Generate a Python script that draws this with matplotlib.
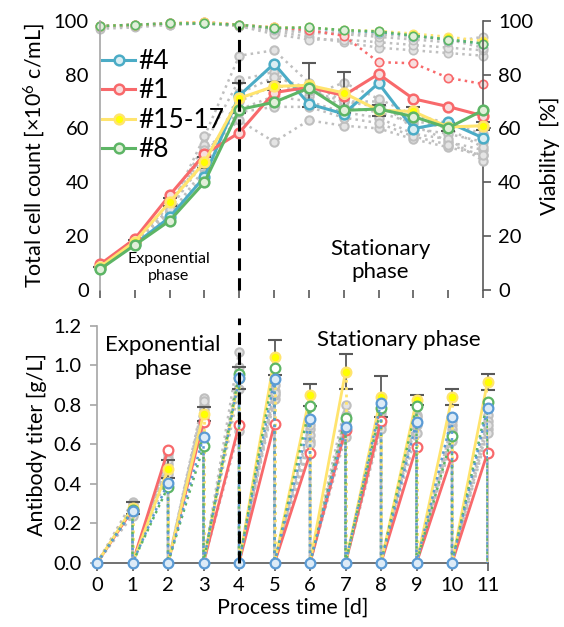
import numpy as np
import matplotlib
matplotlib.use("Agg")
import matplotlib.pyplot as plt

plt.rcParams['font.family'] = ['Lato', 'DejaVu Sans']
plt.rcParams['mathtext.default'] = 'regular'

# ---------------- data ----------------
days = list(range(12))

# total cell count [x10^6 c/mL]
cc_4 = [8, 17, 27, 42, 72.2, 84, 69.1, 65.4, 76.8, 59.9, 62.3, 56.5]
cc_1 = [9.5, 19, 35.2, 50.4, 58.4, 73.3, 75.3, 72.2, 80.2, 71, 68.1, 64.7]
cc_15 = [8.5, 18, 32.6, 47.4, 71.2, 75.6, 76, 73.2, 66.7, 66.3, 60.5, 61]
cc_15_err = [0, 0.5, 1.5, 2, 5.5, 1.5, 8.2, 7.6, 2, 1.5, 1.5, 1.5]
cc_8 = [7.7, 16.7, 25.7, 40, 67, 69.7, 75, 66.7, 67.2, 64.4, 60.2, 66.7]
cc_gray = [
    [8, 18, 30, 57, 87, 89, 77, 70, 70, 60, 58, 55],
    [9, 19, 31, 54, 78, 81, 72, 77, 71, 65, 62, 58],
    [8, 18, 29, 52, 63, 55, 63, 61, 60, 56, 53, 50],
    [8, 17, 28, 45, 73, 79, 75, 68, 66, 62, 55, 52],
    [9, 19, 32, 50, 67, 72, 70, 66, 64, 58, 56, 48],
    [8, 18, 30, 48, 70, 76, 74, 70, 68, 63, 60, 53],
    [8, 17, 27, 43, 66, 68, 68, 64, 62, 57, 54, 50],
]

# viability [%]
via_4 = [98, 98.5, 99, 99, 98.5, 97.3, 97.3, 96.3, 95.8, 94.5, 93, 91.5]
via_1 = [98, 98.5, 99, 99.5, 98.5, 97.5, 96.5, 94.4, 84.6, 84.2, 78.8, 76.5]
via_15 = [98, 98.5, 99, 99.5, 98.5, 97.5, 97.5, 96.5, 96.2, 95.2, 94, 92.5]
via_8 = [98, 98.5, 99, 99, 98.5, 97.3, 97.5, 96.5, 96, 94.5, 93, 91.5]
via_gray = [
    [97, 97.5, 98.5, 99, 98, 96, 94, 92, 90, 89, 88, 87],
    [98, 98, 99, 99, 98, 95, 93, 93, 92, 91, 90, 89],
    [97.5, 98, 98.5, 99, 98.5, 96.5, 95.5, 95, 94, 93, 92, 94],
    [98, 98.5, 99, 99, 98, 97, 96, 95.5, 95, 94, 93, 90],
]

# antibody titer [g/L], value reached at end of each day 1..11
tit_days = list(range(1, 12))
tit_1 = [0.27, 0.572, 0.716, 0.697, 0.704, 0.555, 0.675, 0.719, 0.589, 0.542, 0.559]
tit_15 = [0.28, 0.474, 0.754, 0.935, 1.041, 0.85, 0.969, 0.842, 0.825, 0.839, 0.918]
tit_15_err = [0.03, 0.045, 0.035, 0.055, 0.09, 0.055, 0.089, 0.105, 0.025, 0.04, 0.04]
tit_8 = [0.27, 0.386, 0.592, 0.957, 0.987, 0.795, 0.733, 0.783, 0.795, 0.643, 0.814]
tit_4 = [0.263, 0.407, 0.64, 0.935, 0.93, 0.727, 0.69, 0.812, 0.716, 0.741, 0.783]
tit_gray = [
    [0.31, 0.55, 0.834, 1.07, 0.87, 0.68, 0.80, 0.76, 0.75, 0.70, 0.75],
    [0.30, 0.53, 0.80, 0.99, 0.83, 0.65, 0.75, 0.74, 0.72, 0.68, 0.72],
    [0.25, 0.50, 0.78, 0.88, 0.90, 0.62, 0.64, 0.70, 0.70, 0.66, 0.68],
    [0.24, 0.45, 0.74, 0.67, 0.85, 0.60, 0.70, 0.68, 0.66, 0.62, 0.66],
    [0.28, 0.52, 0.82, 0.96, 0.86, 0.70, 0.72, 0.78, 0.74, 0.72, 0.70],
]

labels = ['#4', '#1', '#15-17', '#8']

# ---------------- styles ----------------
BLUE_T, BLUE_TF = '#4BACC6', '#DAEEF3'
BLUE_B, BLUE_BF = '#5B9BD5', '#DDEBF7'
RED, RED_F = '#F8696B', '#F7DEDE'
YEL, YEL_F = '#FFE46E', '#FFFF00'
GRN, GRN_F = '#5DB565', '#E2EFDA'
GRY, GRY_F = '#BFBFBF', '#E4E4E4'
AX_DARK = '#595959'
AX_LIGHT = '#A6A6A6'
TICK_FS = 14.5
LAB_FS = 15.5

fig = plt.figure(figsize=(5.64, 6.27), dpi=100)

# ================= top panel =================
ax = fig.add_axes([0.1773, 0.5375, 0.679, 0.4295])
ax2 = ax.twinx()
for a in (ax, ax2):
    a.set_xlim(0, 11)
    a.set_ylim(0, 100)
    a.set_facecolor('none')
ax.set_zorder(2)
ax2.set_zorder(1)

ms = 6
# viability (right axis, dotted)
for g in via_gray:
    ax2.plot(days, g, ls=':', color=GRY, lw=1.8, marker='o', ms=ms,
             mfc=GRY_F, mec=GRY, mew=1.2, clip_on=False)
for v, c, f in [(via_4, BLUE_T, BLUE_TF), (via_1, RED, RED_F),
                (via_15, YEL, YEL_F), (via_8, GRN, GRN_F)]:
    ax2.plot(days, v, ls=':', color=c, lw=1.8, marker='o', ms=ms,
             mfc=f, mec=c, mew=1.2, clip_on=False)

# cell counts (left axis)
for g in cc_gray:
    ax.plot(days, g, ls=':', color=GRY, lw=1.8, marker='o', ms=ms,
            mfc=GRY_F, mec=GRY, mew=1.5, clip_on=False, zorder=2)
ax.errorbar(days, cc_15, yerr=cc_15_err, fmt='none', ecolor=AX_DARK,
            elinewidth=1.3, capsize=5, capthick=1.5, zorder=2.5, clip_on=False)
handles = []
for v, c, f in [(cc_4, BLUE_T, BLUE_TF), (cc_1, RED, RED_F),
                (cc_15, YEL, YEL_F), (cc_8, GRN, GRN_F)]:
    h, = ax.plot(days, v, ls='-', color=c, lw=2.2, marker='o', ms=ms + 1,
                 mfc=f, mec=c, mew=1.8, clip_on=False, zorder=3)
    handles.append(h)

ax.plot([4, 4], [0, 98], ls=(0, (4, 2.5)), color='black', lw=2.2, zorder=4,
        clip_on=False)

leg = ax.legend(handles, labels, loc='upper left', bbox_to_anchor=(0.006, 0.895),
                frameon=False, fontsize=19, handlelength=1.25, handletextpad=0.12,
                labelspacing=0.17, borderpad=0, borderaxespad=0)

ax.text(1.98, 8.3, 'Exponential\nphase', ha='center', va='center',
        fontsize=11.5, linespacing=1.25)
ax.text(8.05, 11.0, 'Stationary\nphase', ha='center', va='center',
        fontsize=16, linespacing=1.2)

ax.set_xticks(days)
ax.set_xticklabels([])
ax.set_yticks(range(0, 101, 20))
ax2.set_yticks(range(0, 101, 20))
for s in ('top', 'bottom', 'right'):
    ax.spines[s].set_visible(False)
for s in ('top', 'bottom', 'left'):
    ax2.spines[s].set_visible(False)
ax.spines['left'].set_color(AX_LIGHT)
ax.spines['left'].set_linewidth(1.2)
ax2.spines['right'].set_color(AX_DARK)
ax2.spines['right'].set_linewidth(1.2)
ax.tick_params(axis='x', direction='out', length=6, width=1.2, color=AX_DARK)
ax.tick_params(axis='y', length=0, pad=8, labelsize=TICK_FS)
ax2.tick_params(axis='y', direction='out', length=6, width=1.2, color=AX_DARK,
                pad=5, labelsize=TICK_FS)
ax2.tick_params(axis='x', length=0)
ax.set_ylabel('Total cell count [×10$^{6}$ c/mL]', fontsize=LAB_FS, labelpad=5)
ax2.set_ylabel('Viability  [%]', fontsize=LAB_FS, labelpad=5)

# ================= bottom panel =================
bx = fig.add_axes([0.172, 0.1021, 0.6924, 0.378])
bx.set_xlim(0, 11)
bx.set_ylim(0, 1.2)


def saw(vals):
    xs, ys = [0], [0.0]
    for d, v in zip(tit_days, vals):
        xs += [d, d]
        ys += [v, 0.0]
    return xs, ys


def rising(vals):
    xs, ys = [], []
    for d, v in zip(tit_days, vals):
        xs += [d - 1, d, np.nan]
        ys += [0.0, v, np.nan]
    return xs, ys


def drops(vals):
    xs, ys = [], []
    for d, v in zip(tit_days, vals):
        xs += [d, d, np.nan]
        ys += [v, 0.0, np.nan]
    return xs, ys


for g in tit_gray:
    xs, ys = saw(g)
    bx.plot(xs, ys, ls=':', color=GRY, lw=1.8, zorder=2, clip_on=False)
    bx.plot(tit_days, g, ls='none', marker='o', ms=ms, mfc=GRY_F, mec=GRY,
            mew=1.5, zorder=2, clip_on=False)

bx.errorbar(tit_days, tit_15, yerr=tit_15_err, fmt='none', ecolor=AX_DARK,
            elinewidth=1.3, capsize=5, capthick=1.5, zorder=2.5, clip_on=False)

# red: rising segments solid
xs, ys = rising(tit_1)
bx.plot(xs, ys, ls='-', color=RED, lw=2.0, zorder=3)
bx.plot(tit_days, tit_1, ls='none', marker='o', ms=ms + 1, mfc='white', mec=RED,
        mew=1.6, zorder=3.1, clip_on=False)
# yellow: rising solid, drops dotted
xs, ys = rising(tit_15)
bx.plot(xs, ys, ls='-', color=YEL, lw=2.0, zorder=3.2)
xs, ys = drops(tit_15)
bx.plot(xs, ys, ls=':', color=YEL, lw=2.0, zorder=3.2)
bx.plot(tit_days, tit_15, ls='none', marker='o', ms=ms + 1, mfc=YEL_F, mec=YEL,
        mew=1.6, zorder=3.3, clip_on=False)
# green: dotted sawtooth
xs, ys = saw(tit_8)
bx.plot(xs, ys, ls=':', color=GRN, lw=1.8, zorder=3.4)
bx.plot(tit_days, tit_8, ls='none', marker='o', ms=ms + 1, mfc='white', mec=GRN,
        mew=1.6, zorder=3.5, clip_on=False)
# blue: dotted sawtooth
xs, ys = saw(tit_4)
bx.plot(xs, ys, ls=':', color=BLUE_B, lw=1.8, zorder=3.6)
bx.plot(tit_days, tit_4, ls='none', marker='o', ms=ms + 1, mfc=BLUE_BF,
        mec=BLUE_B, mew=1.6, zorder=3.7, clip_on=False)
bx.plot(days[:-1], [0.0] * (len(days) - 1), ls='none', marker='o', ms=ms + 1,
        mfc=BLUE_BF, mec=BLUE_B, mew=1.6, zorder=3.8, clip_on=False)

bx.plot([4, 4], [0, 1.24], ls=(0, (4, 2.5)), color='black', lw=2.2, zorder=4,
        clip_on=False)

bx.text(1.86, 1.045, 'Exponential\nphase', ha='center', va='center',
        fontsize=16, linespacing=1.25)
bx.text(8.5, 1.13, 'Stationary phase', ha='center', va='center', fontsize=16)

bx.set_xticks(days)
bx.set_yticks(np.arange(0, 1.21, 0.2))
bx.set_yticklabels([f'{t:.1f}' for t in np.arange(0, 1.21, 0.2)])
for s in ('top', 'right'):
    bx.spines[s].set_visible(False)
bx.spines['left'].set_color(AX_LIGHT)
bx.spines['left'].set_linewidth(1.2)
bx.spines['bottom'].set_color(AX_DARK)
bx.spines['bottom'].set_linewidth(1.2)
bx.tick_params(axis='x', direction='out', length=6, width=1.2, color=AX_DARK,
               pad=4, labelsize=TICK_FS)
bx.tick_params(axis='y', direction='out', length=5, width=1.2, color=AX_LIGHT,
               pad=6, labelsize=TICK_FS)
bx.set_ylabel('Antibody titer [g/L]', fontsize=LAB_FS, labelpad=5)
bx.set_xlabel('Process time [d]', fontsize=LAB_FS, labelpad=3)

fig.savefig('out.png', dpi=100)
